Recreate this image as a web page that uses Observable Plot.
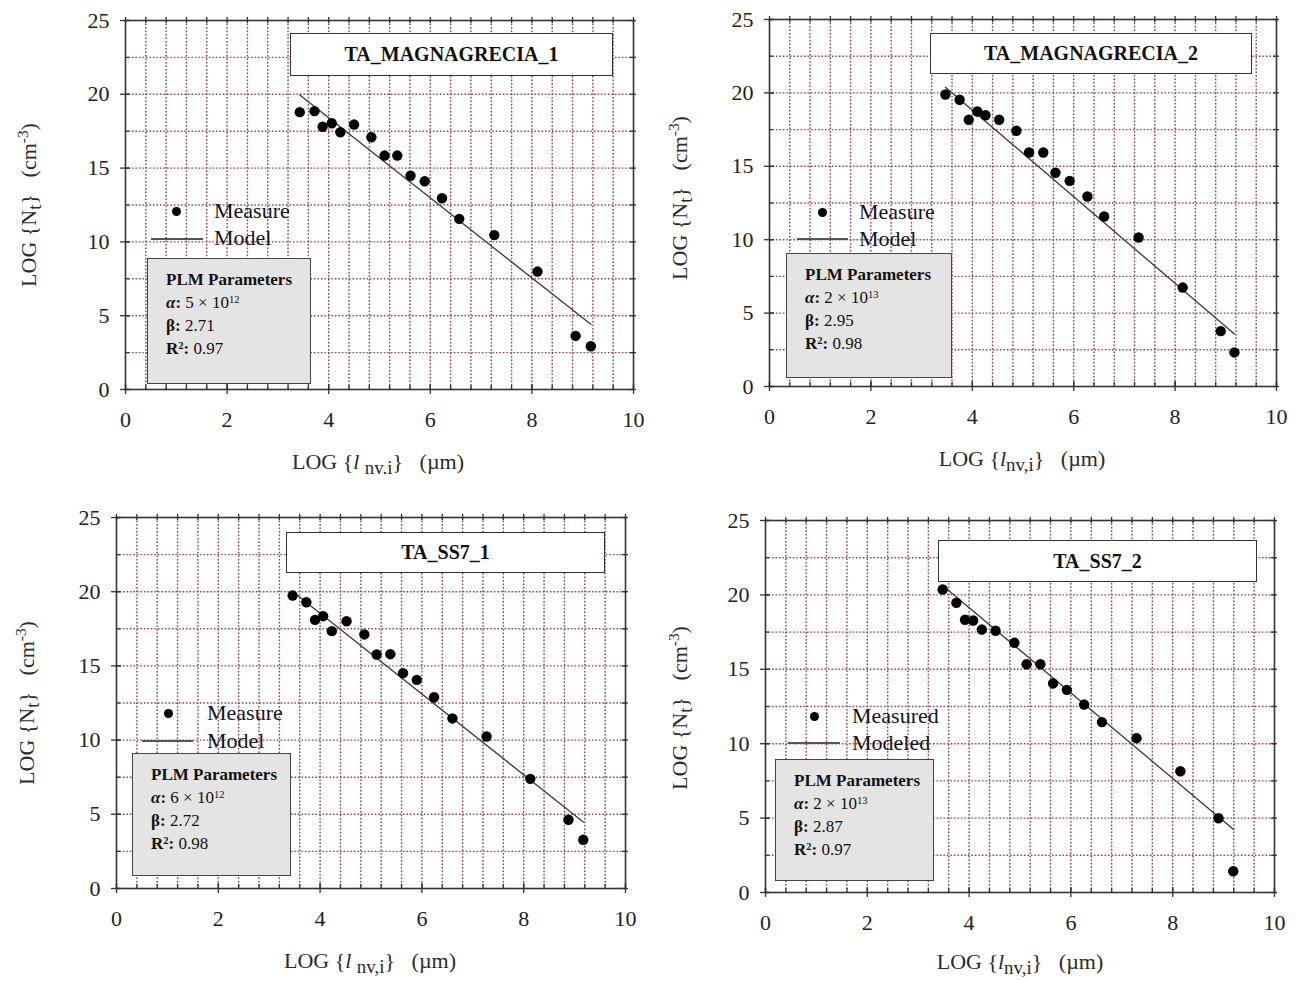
<!DOCTYPE html>
<html>
<head>
<meta charset="utf-8">
<script src="https://cdn.jsdelivr.net/npm/d3@7"></script>
<script src="https://cdn.jsdelivr.net/npm/@observablehq/plot@0.6"></script>
<style>
  body { margin: 0; background: #fff; }
  #fig { position: relative; width: 1296px; height: 981px; overflow: hidden;
         font-family: "Liberation Serif", "DejaVu Serif", serif; color: #1a1a1a; }
  #fig svg { position: absolute; }
  .ov { position: absolute; white-space: nowrap; line-height: 1; }
  .tbox { position: absolute; background: #fff; border: 1.5px solid #333; box-sizing: border-box;
          display: flex; align-items: center; justify-content: center;
          font-weight: bold; font-size: 20px; color: #111; }
  .pbox { position: absolute; background: #e4e4e4; border: 1.5px solid #444; box-sizing: border-box;
          font-size: 17px; line-height: 23px; color: #111; }
  .pbox div { white-space: nowrap; }
  .sup { font-size: 0.62em; position: relative; top: -0.5em; line-height: 0; }
  .leg { font-size: 22px; color: #141420; }
  .mk { position: absolute; width: 9px; height: 9px; border-radius: 50%; background: #000; }
  .ln { position: absolute; height: 1.5px; background: #555; }
  .axt { font-size: 22px; color: #2a2a2a; padding: 2px 0; }
  .sub { font-size: 0.86em; position: relative; top: 0.28em; line-height: 0; }
  .sup2 { font-size: 0.7em; position: relative; top: -0.5em; line-height: 0; }
</style>
</head>
<body>
<div id="fig"></div>
<script>
// ---- data: LOG(l_nv,i) vs LOG(N_t) for the four samples ----
const titles = ["TA_MAGNAGRECIA_1", "TA_MAGNAGRECIA_2", "TA_SS7_1", "TA_SS7_2"];

const lnvMagna1 = [3.43, 3.72, 3.88, 4.06, 4.23, 4.50, 4.84, 5.10, 5.35, 5.61, 5.89, 6.23, 6.57, 7.26, 8.11, 8.86, 9.16];
const ntMagna1  = [18.79, 18.86, 17.80, 18.04, 17.43, 17.95, 17.09, 15.85, 15.85, 14.48, 14.11, 12.96, 11.56, 10.46, 7.99, 3.63, 2.93];

const lnvMagna2 = [3.47, 3.75, 3.93, 4.10, 4.26, 4.53, 4.87, 5.12, 5.40, 5.64, 5.92, 6.27, 6.60, 7.28, 8.15, 8.90, 9.17];
const ntMagna2  = [19.89, 19.53, 18.17, 18.73, 18.48, 18.17, 17.42, 15.94, 15.94, 14.56, 14.01, 12.94, 11.58, 10.15, 6.74, 3.77, 2.32];

const lnvSS71 = [3.46, 3.73, 3.90, 4.06, 4.23, 4.52, 4.87, 5.11, 5.38, 5.63, 5.90, 6.24, 6.60, 7.27, 8.13, 8.88, 9.17];
const ntSS71  = [19.74, 19.29, 18.10, 18.35, 17.34, 18.01, 17.12, 15.77, 15.79, 14.51, 14.06, 12.89, 11.46, 10.24, 7.39, 4.63, 3.28];

const lnvSS72 = [3.48, 3.75, 3.92, 4.08, 4.25, 4.52, 4.89, 5.13, 5.40, 5.65, 5.92, 6.26, 6.61, 7.29, 8.15, 8.90, 9.19];
const ntSS72  = [20.36, 19.47, 18.33, 18.28, 17.67, 17.59, 16.78, 15.34, 15.34, 14.05, 13.62, 12.63, 11.45, 10.37, 8.15, 4.99, 1.43];

const lnvSeries = [lnvMagna1, lnvMagna2, lnvSS71, lnvSS72];
const ntSeries  = [ntMagna1, ntMagna2, ntSS71, ntSS72];

// PLM fit parameters: LOG(N_t) = ln(alpha) - beta * LOG(l)
const alphas = [5e12, 2e13, 6e12, 2e13];
const betas  = [2.71, 2.95, 2.72, 2.87];
const r2s    = [0.97, 0.98, 0.98, 0.97];

const measureLabels = ["Measure", "Measure", "Measure", "Measured"];
const modelLabels   = ["Model", "Model", "Model", "Modeled"];
const xSubLabels    = ["nv.i", "nv,i", "nv,i", "nv,i"];
const xSubGap       = [true, false, true, false];

const xTicks = [0, 2, 4, 6, 8, 10];
const yTicks = [0, 5, 10, 15, 20, 25];

// ---- layout (pixels) ----
const FONT = '"Liberation Serif", "DejaVu Serif", serif';
const GRID = "#9a3d66";
const layout = [
  { frame: {left: 125, top: 20, w: 508, h: 369}, title: {x: 165, y: 13, w: 323, h: 43},
    dot: [51, 191], textX: 89, measY: 191, modY: 218, line: [26, 78, 219],
    par: {x: 22, y: 238, w: 164, h: 126}, xt: [378, 462], yt: [29, 205] },
  { frame: {left: 769, top: 19, w: 507, h: 367}, title: {x: 161, y: 14, w: 322, h: 41},
    dot: [53, 193], textX: 90, measY: 193, modY: 220, line: [28, 79, 220],
    par: {x: 17, y: 234, w: 166, h: 125}, xt: [1022, 459], yt: [680, 198] },
  { frame: {left: 116, top: 517, w: 509, h: 371}, title: {x: 170, y: 15, w: 319, h: 41},
    dot: [52, 196], textX: 91, measY: 196, modY: 224, line: [26, 77, 224],
    par: {x: 16, y: 236, w: 159, h: 123}, xt: [370, 961], yt: [27, 703] },
  { frame: {left: 765, top: 520, w: 509, h: 372}, title: {x: 173, y: 20, w: 319, h: 42},
    dot: [49, 196], textX: 87, measY: 196, modY: 223, line: [23, 75, 223],
    par: {x: 10, y: 239, w: 159, h: 122}, xt: [1020, 962], yt: [680, 708] }
];

const fig = document.getElementById("fig");

function el(cls, html, css) {
  const d = document.createElement("div");
  d.className = cls;
  if (html != null) d.innerHTML = html;
  Object.assign(d.style, css);
  fig.appendChild(d);
  return d;
}

function sci(a) {
  const e = Math.floor(Math.log10(a));
  const m = Math.round(a / Math.pow(10, e));
  return `${m} × 10<span class="sup">${e}</span>`;
}

const xGrid  = d3.range(1, 25).map(k => k * 0.4);
const yGrid  = d3.range(1, 10).map(k => k * 2.5);
const xSteps = d3.range(0, 26).map(k => k * 0.4);
const ySteps = d3.range(0, 11).map(k => k * 2.5);

function drawPanel(i) {
  const L = layout[i], F = L.frame;
  const ml = 70, mr = 12, mt = 12, mb = 50;
  const pts = lnvSeries[i].map((x, k) => ({x, y: ntSeries[i][k]}));
  const lnA = Math.log(alphas[i]);
  const ext = d3.extent(lnvSeries[i]);
  const model = ext.map(x => ({x, y: lnA - betas[i] * x}));

  const plot = Plot.plot({
    width: F.w + ml + mr, height: F.h + mt + mb,
    marginLeft: ml, marginRight: mr, marginTop: mt, marginBottom: mb,
    x: {domain: [0, 10], label: null},
    y: {domain: [0, 25], label: null},
    style: {fontFamily: FONT, fontSize: "22px", color: "#222", background: "transparent", overflow: "visible"},
    marks: [
      // light underlay and dotted maroon grid
      Plot.ruleX(xGrid, {stroke: "#e6e6e6", strokeWidth: 1}),
      Plot.ruleY(yGrid, {stroke: "#e6e6e6", strokeWidth: 1}),
      Plot.ruleX(xGrid, {stroke: GRID, strokeWidth: 1.4, strokeDasharray: "1.4 2.1"}),
      Plot.ruleY(yGrid, {stroke: GRID, strokeWidth: 1.4, strokeDasharray: "1.4 2.1"}),
      Plot.frame({stroke: "#333", strokeWidth: 1.6}),
      // tick marks on the four sides
      Plot.ruleX(xSteps, {y1: 0, y2: 0, insetTop: -4, insetBottom: 0, stroke: "#333", strokeWidth: 1.3}),
      Plot.ruleX(xTicks, {y1: 0, y2: 0, insetTop: -5, insetBottom: -5, stroke: "#333", strokeWidth: 1.3}),
      Plot.ruleX(xSteps, {y1: 25, y2: 25, insetTop: -3, insetBottom: -3, stroke: "#333", strokeWidth: 1.3}),
      Plot.ruleY(ySteps, {x1: 0, x2: 0, insetLeft: 0, insetRight: -4, stroke: "#333", strokeWidth: 1.3}),
      Plot.ruleY(yTicks, {x1: 0, x2: 0, insetLeft: -5, insetRight: -5, stroke: "#333", strokeWidth: 1.3}),
      Plot.ruleY(ySteps, {x1: 10, x2: 10, insetLeft: -3, insetRight: -3, stroke: "#333", strokeWidth: 1.3}),
      Plot.axisX({ticks: xTicks, tickSize: 0, tickPadding: 22, label: null, fill: "#222"}),
      Plot.axisY({ticks: yTicks, tickSize: 0, tickPadding: 16, label: null, fill: "#222"}),
      Plot.line(model, {x: "x", y: "y", stroke: "#3a3a3a", strokeWidth: 1.3}),
      Plot.dot(pts, {x: "x", y: "y", r: 5.2, fill: "#000", stroke: "none"})
    ]
  });
  plot.style.left = (F.left - ml) + "px";
  plot.style.top = (F.top - mt) + "px";
  fig.appendChild(plot);

  // sample title box
  el("tbox", titles[i], {left: F.left + L.title.x + "px", top: F.top + L.title.y + "px",
    width: L.title.w + "px", height: L.title.h + "px"});

  // legend
  el("mk", null, {left: F.left + L.dot[0] - 4.5 + "px", top: F.top + L.dot[1] - 4.5 + "px"});
  el("ov leg", measureLabels[i], {left: F.left + L.textX + "px", top: F.top + L.measY + "px", transform: "translateY(-50%)"});
  el("ln", null, {left: F.left + L.line[0] + "px", top: F.top + L.line[2] - 0.75 + "px", width: (L.line[1] - L.line[0]) + "px"});
  el("ov leg", modelLabels[i], {left: F.left + L.textX + "px", top: F.top + L.modY + "px", transform: "translateY(-50%)"});

  // parameter box
  el("pbox",
    `<div><b>PLM Parameters</b></div>` +
    `<div><b><i>α</i>:</b> ${sci(alphas[i])}</div>` +
    `<div><b>β:</b> ${betas[i].toFixed(2)}</div>` +
    `<div><b>R<span class="sup">2</span>:</b> ${r2s[i].toFixed(2)}</div>`,
    {left: F.left + L.par.x + "px", top: F.top + L.par.y + "px", width: L.par.w + "px", height: L.par.h + "px",
     paddingLeft: "18px", paddingTop: "9px"});

  // axis titles
  const gap = xSubGap[i] ? " " : "";
  el("ov axt", `LOG {<i>l</i>${gap}<span class="sub">${xSubLabels[i]}</span>}&nbsp;&nbsp;&nbsp;(µm)`,
    {left: L.xt[0] + "px", top: L.xt[1] + "px", transform: "translate(-50%, -50%)"});
  el("ov axt", `LOG {N<span class="sub">t</span>}&nbsp;&nbsp;&nbsp;(cm<span class="sup2">-3</span>)`,
    {left: L.yt[0] + "px", top: L.yt[1] + "px", transform: "translate(-50%, -50%) rotate(-90deg)"});
}

[0, 1, 2, 3].forEach(drawPanel);
</script>
</body>
</html>
